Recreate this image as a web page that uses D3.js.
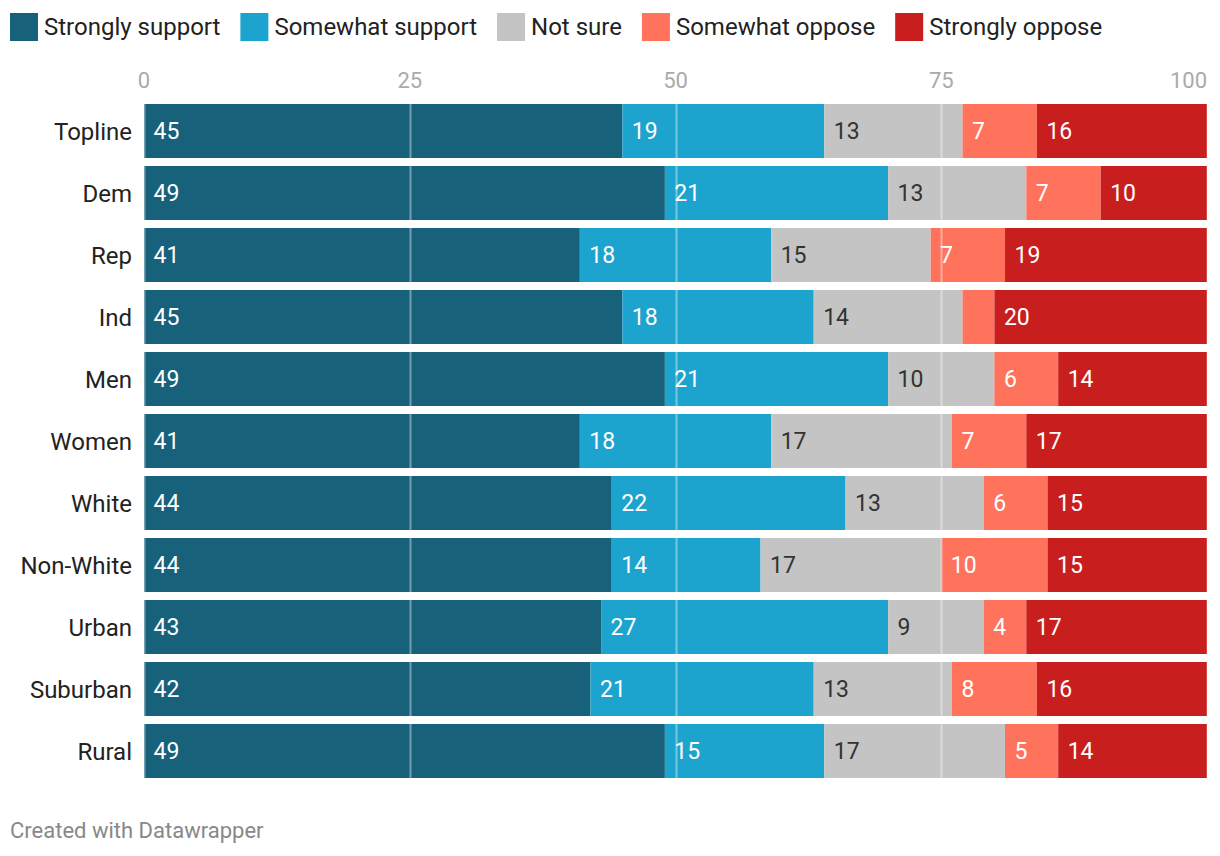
<!DOCTYPE html>
<html><head><meta charset="utf-8">
<script src="https://cdn.jsdelivr.net/npm/d3@7"></script>
<style>body{margin:0;background:#fff;font-family:Roboto,sans-serif}</style>
</head><body><svg id="c" width="1220" height="856"></svg>
<script>
const categories = ["Topline","Dem","Rep","Ind","Men","Women","White","Non-White","Urban","Suburban","Rural"];
const seriesNames = ["Strongly support","Somewhat support","Not sure","Somewhat oppose","Strongly oppose"];
const stronglySupport = [45,49,41,45,49,41,44,44,43,42,49];
const somewhatSupport = [19,21,18,18,21,18,22,14,27,21,15];
const notSure = [13,13,15,14,10,17,13,17,9,13,17];
const somewhatOppose = [7,7,7,3,6,7,6,10,4,8,5];
const stronglyOppose = [16,10,19,20,14,17,15,15,17,16,14];
const tickValues = [0,25,50,75,100];
const colors = ["#18617b","#1ca3ce","#c4c4c4","#ff735c","#c81e1e"];
const labelColors = ["#fff","#fff","#333","#fff","#fff"];

const seriesVals = [stronglySupport,somewhatSupport,notSure,somewhatOppose,stronglyOppose];
const rows = categories.map((c,i)=>{const o={cat:c}; seriesNames.forEach((s,j)=>o[s]=seriesVals[j][i]); return o;});
const stack = d3.stack().keys(seriesNames)(rows);

const svg = d3.select("#c");
const x = d3.scaleLinear().domain([0,100]).range([144,1207]);
const bh = 54, step = 62;
const yPos = c => 104 + categories.indexOf(c)*step;

// legend
let lx = 10;
const leg = svg.append("g");
seriesNames.forEach((s,i)=>{
  leg.append("rect").attr("x",lx).attr("y",13).attr("width",28).attr("height",28).attr("fill",colors[i]);
  const t = leg.append("text").attr("x",lx+34).attr("y",35).attr("font-size",24).attr("fill","#222").text(s);
  lx += 34 + t.node().getComputedTextLength() + 20;
});

// axis tick labels
svg.append("g").selectAll("text").data(tickValues).join("text")
  .attr("x",d=>x(d)).attr("y",88)
  .attr("text-anchor",(d,i)=>i===tickValues.length-1?"end":"middle")
  .attr("font-size",22).attr("fill","#aaa").text(d=>d);

// bars
const g = svg.append("g");
stack.forEach((layer,j)=>{
  g.append("g").selectAll("rect").data(layer).join("rect")
    .attr("x",d=>x(d[0])).attr("width",d=>x(d[1])-x(d[0]))
    .attr("y",d=>yPos(d.data.cat)).attr("height",bh)
    .attr("fill",colors[j]);
});

// gridlines over bars
svg.append("g").selectAll("line").data(tickValues).join("line")
  .attr("x1",d=>Math.round(x(d))+0.5).attr("x2",d=>Math.round(x(d))+0.5)
  .attr("y1",104).attr("y2",104+step*10+bh)
  .attr("stroke","#fff").attr("stroke-opacity",0.4).attr("stroke-width",2);

// value labels
stack.forEach((layer,j)=>{
  svg.append("g").selectAll("text").data(layer.filter(d=>d[1]-d[0]>=4)).join("text")
    .attr("x",d=>x(d[0])+9.5).attr("y",d=>yPos(d.data.cat)+bh/2+8)
    .attr("font-size",23).attr("fill",labelColors[j])
    .text(d=>d[1]-d[0]);
});

// category labels
svg.append("g").selectAll("text").data(categories).join("text")
  .attr("x",132).attr("y",c=>yPos(c)+bh/2+8.5)
  .attr("text-anchor","end").attr("font-size",24).attr("fill","#222").text(c=>c);

// footer
svg.append("text").attr("x",10).attr("y",838).attr("font-size",22).attr("fill","#888").text("Created with Datawrapper");
</script></body></html>
